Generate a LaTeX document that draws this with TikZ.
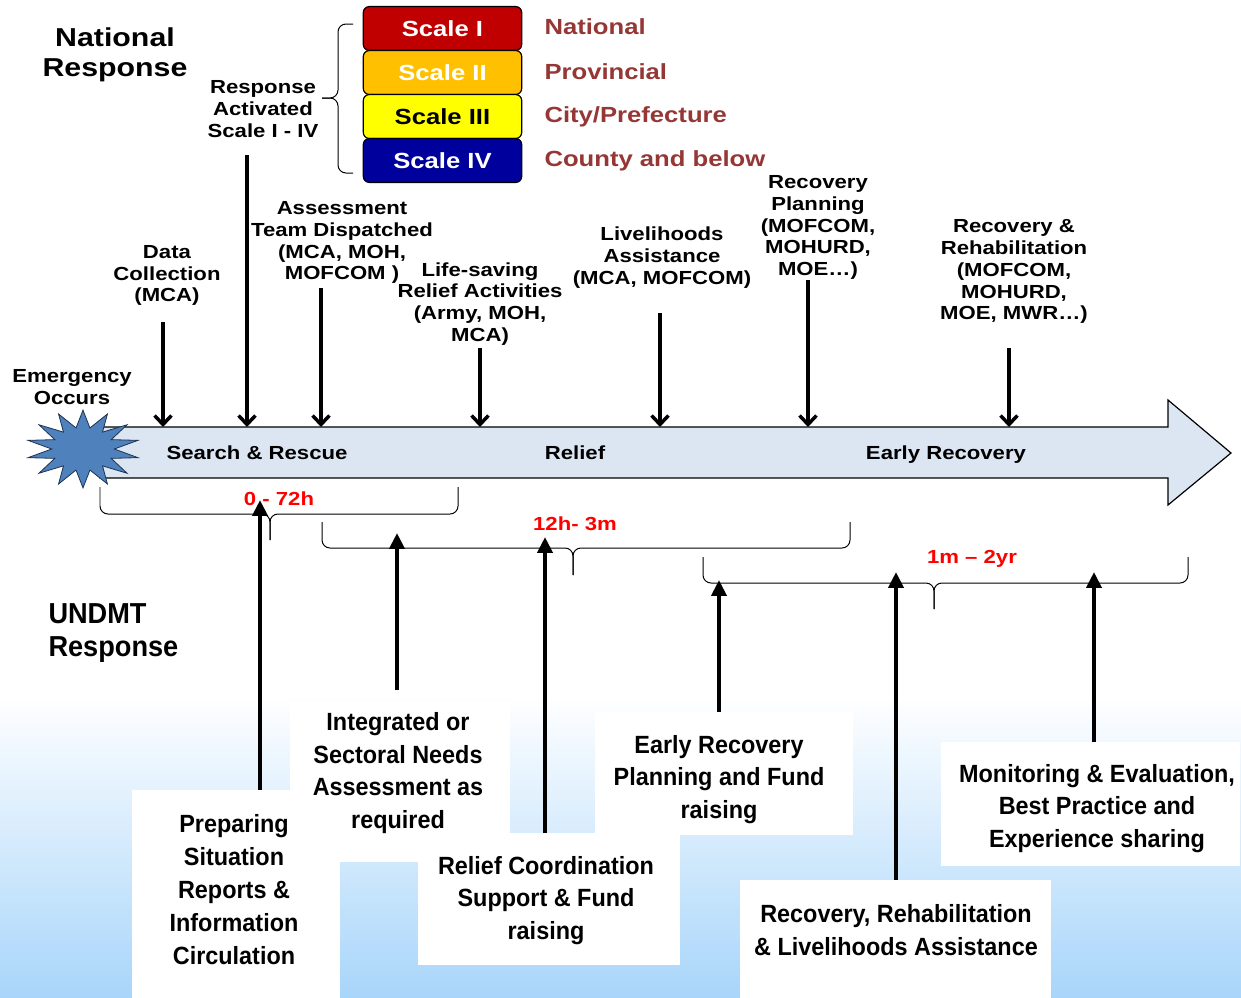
\documentclass[tikz,border=0pt]{standalone}
\usepackage{fontspec}
\setmainfont{Liberation Sans}[FakeStretch=1.17]
\newfontfamily\undmtfont{Liberation Sans}[FakeStretch=0.94]
\usetikzlibrary{arrows.meta,shapes.geometric}
\definecolor{scaleone}{HTML}{C00000}
\definecolor{scaletwo}{HTML}{FFC000}
\definecolor{scalethree}{HTML}{FFFF00}
\definecolor{scalefour}{HTML}{00009C}
\definecolor{levelred}{HTML}{953735}
\definecolor{tlfill}{HTML}{DCE6F2}
\definecolor{starblue}{HTML}{4F81BD}
\definecolor{stardark}{HTML}{1F3350}
\definecolor{bgblue}{RGB}{168,213,250}

\begin{document}
\begin{tikzpicture}[x=1bp,y=-1bp,
  lbl/.style={align=center,font=\fontsize{19}{22}\selectfont\bfseries},
  level/.style={draw=black,line width=1.2,rounded corners=6,minimum width=159,
    minimum height=44,inner sep=0,font=\fontsize{22}{26}\selectfont\bfseries},
  lvlname/.style={anchor=west,text=levelred,font=\fontsize{22}{26}\selectfont\bfseries},
  phase/.style={anchor=base,font=\fontsize{19}{22}\selectfont\bfseries},
  tlbl/.style={text=red,font=\fontsize{19}{22}\selectfont\bfseries},
  ubox/.style={fill=white,inner sep=0},
  utext/.style={align=center,inner sep=0,font=\undmtfont\fontsize{25}{33}\selectfont\bfseries},
  darrow/.style={line width=3.5,-{Straight Barb[length=9,width=17]}},
  uarrow/.style={line width=4,-{Triangle[length=16,width=15]}},
  brc/.style={line width=1,rounded corners=8}]
\useasboundingbox (0,0) rectangle (1241,998);

% background
\shade[top color=white,bottom color=bgblue] (0,695) rectangle (1241,998);

% headings
\node[align=center,font=\fontsize{26}{30}\selectfont\bfseries] (natresp) at (115,55) {National\\Response};
\node[anchor=west,align=left,font=\undmtfont\fontsize{29}{34}\selectfont\bfseries] (undmt) at (45,633) {UNDMT\\Response};

% response levels
\node[level,fill=scaleone,text=white] (s1) at (442.5,28.5) {Scale I};
\node[level,fill=scaletwo,text=white] (s2) at (442.5,72.5) {Scale II};
\node[level,fill=scalethree,text=black] (s3) at (442.5,116.5) {Scale III};
\node[level,fill=scalefour,text=white] (s4) at (442.5,160.5) {Scale IV};
\node[lvlname] (l1) at (541,27) {National};
\node[lvlname] (l2) at (541,71.5) {Provincial};
\node[lvlname] (l3) at (541,116.5) {City/Prefecture};
\node[lvlname] (l4) at (541,160.5) {County and below};
\draw[brc] (353,24) -- (338,24) -- (338,98) -- (322,98);
\draw[brc] (353,173) -- (338,173) -- (338,98) -- (322,98);

% timeline
\draw[fill=tlfill,line width=1.2] (100,427) -- (1168,427) -- (1168,400) -- (1231,453)
  -- (1168,505) -- (1168,478) -- (100,478) -- cycle;
\coordinate (shaft) at (0,427);
\node[star,star points=14,star point ratio=1.8,minimum size=78,inner sep=0,xscale=1.45,
  fill=starblue,draw=stardark,line width=0.8] (boom) at (83,449) {};
\node[phase] (sar) at (257,459) {Search \& Rescue};
\node[phase] (relief) at (575,459) {Relief};
\node[phase] (early) at (946,459) {Early Recovery};

% national actions
\node[lbl] (emerg) at (72,387) {Emergency\\Occurs};
\node[lbl] (data) at (167,275.5) {Data\\Collection\\(MCA)};
\node[lbl] (activ) at (263,109) {Response\\Activated\\Scale I - IV};
\node[lbl] (assess) at (342,242.5) {Assessment\\Team Dispatched\\(MCA, MOH,\\MOFCOM )};
\node[lbl] (life) at (480,304) {Life-saving\\Relief Activities\\(Army, MOH,\\MCA)};
\node[lbl] (liveli) at (662,258) {Livelihoods\\Assistance\\(MCA, MOFCOM)};
\node[lbl] (plan) at (818,227.5) {Recovery\\Planning\\(MOFCOM,\\MOHURD,\\MOE…)};
\node[lbl] (rehab) at (1014,271.5) {Recovery \&\\Rehabilitation\\(MOFCOM,\\MOHURD,\\MOE, MWR…)};

\coordinate (d1) at (163,322);
\coordinate (d2) at (247,155);
\coordinate (d3) at (321,288);
\coordinate (d4) at (480,348);
\coordinate (d5) at (660,313);
\coordinate (d6) at (808,280);
\coordinate (d7) at (1009,348);
\foreach \d in {d1,d2,d3,d4,d5,d6,d7}
  \draw[darrow] (\d) -- (\d |- shaft);

% time spans
\draw[brc] (100,487) -- (100,514) -- (270,514) -- (270,540);
\draw[brc] (458,487) -- (458,514) -- (270,514) -- (270,540);
\draw[brc] (322,522) -- (322,548) -- (573,548) -- (573,575);
\draw[brc] (850,522) -- (850,548) -- (573,548) -- (573,575);
\draw[brc] (703,557) -- (703,583) -- (934,583) -- (934,609);
\draw[brc] (1188,557) -- (1188,583) -- (934,583) -- (934,609);
\node[tlbl] (t1) at (279,499) {0 - 72h};
\node[tlbl] (t2) at (575,524) {12h- 3m};
\node[tlbl] (t3) at (972,559) {1m -- 2yr};

% UNDMT activities
\node[ubox,minimum width=208,minimum height=208] (prep) at (236,894) {};
\node[ubox,minimum width=262,minimum height=132] (coord) at (549,899) {};
\node[ubox,minimum width=220,minimum height=160] (integ) at (400,782) {};
\node[ubox,minimum width=258,minimum height=123] (erplan) at (724,773.5) {};
\node[ubox,minimum width=301,minimum height=124] (monit) at (1090.5,804) {};
\node[ubox,minimum width=313,minimum height=118] (recov) at (895.5,939) {};
\node[utext] (prep-t) at (234,889.5) {Preparing\\Situation\\Reports \&\\Information\\Circulation};
\node[utext] (coord-t) at (546,900.5) {Relief Coordination\\Support \& Fund\\raising};
\node[utext] (integ-t) at (398,773) {Integrated or\\Sectoral Needs\\Assessment as\\required};
\node[utext] (erplan-t) at (719,779.5) {Early Recovery\\Planning and Fund\\raising};
\node[utext] (monit-t) at (1097,808.5) {Monitoring \& Evaluation,\\Best Practice and\\Experience sharing};
\node[utext] (recov-t) at (896,930) {Recovery, Rehabilitation\\\& Livelihoods Assistance};

\coordinate (u1) at (260,500);
\coordinate (u2) at (397,533);
\coordinate (u3) at (545,537);
\coordinate (u4) at (719,580);
\coordinate (u5) at (896,572);
\coordinate (u6) at (1094,572);
\draw[uarrow] (prep.north -| u1) -- (u1);
\draw[uarrow,shorten <=12] (integ.north -| u2) -- (u2);
\draw[uarrow] (coord.north -| u3) -- (u3);
\draw[uarrow] (erplan.north -| u4) -- (u4);
\draw[uarrow] (recov.north -| u5) -- (u5);
\draw[uarrow] (monit.north -| u6) -- (u6);
\end{tikzpicture}
\end{document}
